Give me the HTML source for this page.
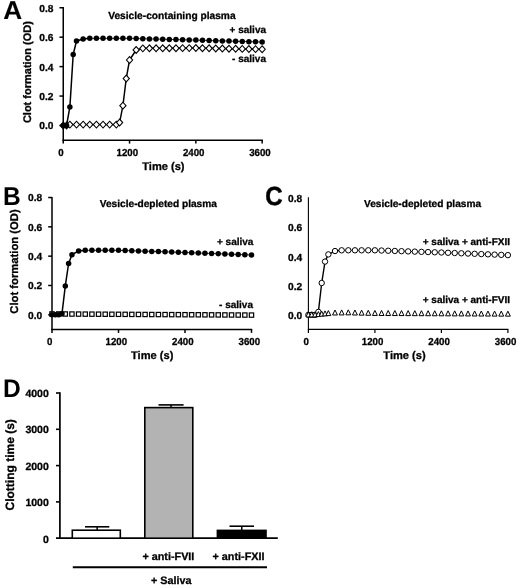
<!DOCTYPE html>
<html><head><meta charset="utf-8"><title>Figure</title>
<style>html,body{margin:0;padding:0;background:#fff}svg{display:block;will-change:transform}text{font-family:"Liberation Sans",Arial,sans-serif;font-weight:bold;fill:#000;text-rendering:geometricPrecision;stroke:#000;stroke-width:0.3px;stroke-linejoin:round}text.big{stroke-width:0.5px;stroke-linejoin:miter}</style>
</head><body>
<svg width="520" height="588" viewBox="0 0 520 588">
<line x1="63.25" y1="7.05" x2="63.25" y2="140.95" stroke="#000" stroke-width="1.5"/>
<line x1="62.55" y1="140.25" x2="262.90" y2="140.25" stroke="#000" stroke-width="1.5"/>
<line x1="59.45" y1="125.50" x2="63.25" y2="125.50" stroke="#000" stroke-width="1.5"/>
<text transform="translate(53.45 129.40) scale(1.0 1)" font-size="10.2" text-anchor="end" >0.0</text>
<line x1="59.45" y1="96.06" x2="63.25" y2="96.06" stroke="#000" stroke-width="1.5"/>
<text transform="translate(53.45 99.96) scale(1.0 1)" font-size="10.2" text-anchor="end" >0.2</text>
<line x1="59.45" y1="66.62" x2="63.25" y2="66.62" stroke="#000" stroke-width="1.5"/>
<text transform="translate(53.45 70.52) scale(1.0 1)" font-size="10.2" text-anchor="end" >0.4</text>
<line x1="59.45" y1="37.18" x2="63.25" y2="37.18" stroke="#000" stroke-width="1.5"/>
<text transform="translate(53.45 41.08) scale(1.0 1)" font-size="10.2" text-anchor="end" >0.6</text>
<line x1="59.45" y1="7.74" x2="63.25" y2="7.74" stroke="#000" stroke-width="1.5"/>
<text transform="translate(53.45 11.64) scale(1.0 1)" font-size="10.2" text-anchor="end" >0.8</text>
<line x1="63.25" y1="140.25" x2="63.25" y2="143.60" stroke="#000" stroke-width="1.5"/>
<text transform="translate(61.05 155.60) scale(0.95 1)" font-size="10.2" text-anchor="middle" >0</text>
<line x1="129.55" y1="140.25" x2="129.55" y2="143.60" stroke="#000" stroke-width="1.5"/>
<text transform="translate(127.35 155.60) scale(0.95 1)" font-size="10.2" text-anchor="middle" >1200</text>
<line x1="195.85" y1="140.25" x2="195.85" y2="143.60" stroke="#000" stroke-width="1.5"/>
<text transform="translate(193.65 155.60) scale(0.95 1)" font-size="10.2" text-anchor="middle" >2400</text>
<line x1="262.15" y1="140.25" x2="262.15" y2="143.60" stroke="#000" stroke-width="1.5"/>
<text transform="translate(259.95 155.60) scale(0.95 1)" font-size="10.2" text-anchor="middle" >3600</text>
<text transform="translate(163.40 169.50) scale(1.0 1)" font-size="11.1" text-anchor="middle" >Time (s)</text>
<text transform="translate(108.20 18.50) scale(1.0 1)" font-size="10.2" text-anchor="start" >Vesicle-containing plasma</text>
<text transform="translate(266.00 32.60) scale(1.0 1)" font-size="10" text-anchor="end" >+ saliva</text>
<text transform="translate(266.00 62.00) scale(1.0 1)" font-size="10" text-anchor="end" >- saliva</text>
<text transform="translate(3.25 18.95) scale(1.02 1)" font-size="25.7" text-anchor="start" class="big" style="stroke-width:0.1px">A</text>
<text transform="translate(31,72.1) rotate(-90)" font-size="11" text-anchor="middle">Clot formation (OD)</text>
<polyline fill="none" stroke="#000" stroke-width="1.45" stroke-linejoin="round" points="63.25,125.50 66.56,125.50 69.88,124.62 76.51,124.62 83.14,124.62 89.77,124.62 96.40,124.62 103.03,124.62 109.66,124.62 116.29,124.62 119.61,122.56 122.92,105.63 126.23,78.54 129.55,60.00 136.18,49.99 142.81,48.37 149.44,48.33 156.07,48.29 162.70,48.26 169.33,48.22 175.96,48.18 182.59,48.15 189.22,48.11 195.85,48.07 202.48,48.19 209.11,48.31 215.74,48.43 222.37,48.54 229.00,48.66 235.63,48.78 242.26,48.90 248.89,49.01 255.52,49.13 262.15,49.25"/>
<path d="M60.15 125.50L63.25 122.10L66.35 125.50L63.25 128.90Z" fill="#fff" stroke="#000" stroke-width="1.1"/>
<path d="M63.46 125.50L66.56 122.10L69.66 125.50L66.56 128.90Z" fill="#fff" stroke="#000" stroke-width="1.1"/>
<path d="M66.78 124.62L69.88 121.22L72.98 124.62L69.88 128.02Z" fill="#fff" stroke="#000" stroke-width="1.1"/>
<path d="M73.41 124.62L76.51 121.22L79.61 124.62L76.51 128.02Z" fill="#fff" stroke="#000" stroke-width="1.1"/>
<path d="M80.04 124.62L83.14 121.22L86.24 124.62L83.14 128.02Z" fill="#fff" stroke="#000" stroke-width="1.1"/>
<path d="M86.67 124.62L89.77 121.22L92.87 124.62L89.77 128.02Z" fill="#fff" stroke="#000" stroke-width="1.1"/>
<path d="M93.30 124.62L96.40 121.22L99.50 124.62L96.40 128.02Z" fill="#fff" stroke="#000" stroke-width="1.1"/>
<path d="M99.93 124.62L103.03 121.22L106.13 124.62L103.03 128.02Z" fill="#fff" stroke="#000" stroke-width="1.1"/>
<path d="M106.56 124.62L109.66 121.22L112.76 124.62L109.66 128.02Z" fill="#fff" stroke="#000" stroke-width="1.1"/>
<path d="M113.19 124.62L116.29 121.22L119.39 124.62L116.29 128.02Z" fill="#fff" stroke="#000" stroke-width="1.1"/>
<path d="M116.51 122.56L119.61 119.16L122.70 122.56L119.61 125.96Z" fill="#fff" stroke="#000" stroke-width="1.1"/>
<path d="M119.82 105.63L122.92 102.23L126.02 105.63L122.92 109.03Z" fill="#fff" stroke="#000" stroke-width="1.1"/>
<path d="M123.14 78.54L126.23 75.14L129.34 78.54L126.23 81.94Z" fill="#fff" stroke="#000" stroke-width="1.1"/>
<path d="M126.45 60.00L129.55 56.60L132.65 60.00L129.55 63.40Z" fill="#fff" stroke="#000" stroke-width="1.1"/>
<path d="M133.08 49.99L136.18 46.59L139.28 49.99L136.18 53.39Z" fill="#fff" stroke="#000" stroke-width="1.1"/>
<path d="M139.71 48.37L142.81 44.97L145.91 48.37L142.81 51.77Z" fill="#fff" stroke="#000" stroke-width="1.1"/>
<path d="M146.34 48.33L149.44 44.93L152.54 48.33L149.44 51.73Z" fill="#fff" stroke="#000" stroke-width="1.1"/>
<path d="M152.97 48.29L156.07 44.89L159.17 48.29L156.07 51.69Z" fill="#fff" stroke="#000" stroke-width="1.1"/>
<path d="M159.60 48.26L162.70 44.86L165.80 48.26L162.70 51.66Z" fill="#fff" stroke="#000" stroke-width="1.1"/>
<path d="M166.23 48.22L169.33 44.82L172.43 48.22L169.33 51.62Z" fill="#fff" stroke="#000" stroke-width="1.1"/>
<path d="M172.86 48.18L175.96 44.78L179.06 48.18L175.96 51.58Z" fill="#fff" stroke="#000" stroke-width="1.1"/>
<path d="M179.49 48.15L182.59 44.75L185.69 48.15L182.59 51.55Z" fill="#fff" stroke="#000" stroke-width="1.1"/>
<path d="M186.12 48.11L189.22 44.71L192.32 48.11L189.22 51.51Z" fill="#fff" stroke="#000" stroke-width="1.1"/>
<path d="M192.75 48.07L195.85 44.67L198.95 48.07L195.85 51.47Z" fill="#fff" stroke="#000" stroke-width="1.1"/>
<path d="M199.38 48.19L202.48 44.79L205.58 48.19L202.48 51.59Z" fill="#fff" stroke="#000" stroke-width="1.1"/>
<path d="M206.01 48.31L209.11 44.91L212.21 48.31L209.11 51.71Z" fill="#fff" stroke="#000" stroke-width="1.1"/>
<path d="M212.64 48.43L215.74 45.03L218.84 48.43L215.74 51.83Z" fill="#fff" stroke="#000" stroke-width="1.1"/>
<path d="M219.27 48.54L222.37 45.14L225.47 48.54L222.37 51.94Z" fill="#fff" stroke="#000" stroke-width="1.1"/>
<path d="M225.90 48.66L229.00 45.26L232.10 48.66L229.00 52.06Z" fill="#fff" stroke="#000" stroke-width="1.1"/>
<path d="M232.53 48.78L235.63 45.38L238.73 48.78L235.63 52.18Z" fill="#fff" stroke="#000" stroke-width="1.1"/>
<path d="M239.16 48.90L242.26 45.50L245.36 48.90L242.26 52.30Z" fill="#fff" stroke="#000" stroke-width="1.1"/>
<path d="M245.79 49.01L248.89 45.61L251.99 49.01L248.89 52.41Z" fill="#fff" stroke="#000" stroke-width="1.1"/>
<path d="M252.42 49.13L255.52 45.73L258.62 49.13L255.52 52.53Z" fill="#fff" stroke="#000" stroke-width="1.1"/>
<path d="M259.05 49.25L262.15 45.85L265.25 49.25L262.15 52.65Z" fill="#fff" stroke="#000" stroke-width="1.1"/>
<polyline fill="none" stroke="#000" stroke-width="0.8" stroke-linejoin="round" points="89.77,38.36 96.40,38.36 103.03,38.36 109.66,38.36 116.29,38.36 122.92,38.36 129.55,38.36 136.18,38.53 142.81,38.71 149.44,38.89 156.07,39.06 162.70,39.24 169.33,39.42 175.96,39.59 182.59,39.77 189.22,39.95 195.85,40.12 202.48,40.32 209.11,40.51 215.74,40.70 222.37,40.89 229.00,41.08 235.63,41.27 242.26,41.46 248.89,41.65 255.52,41.85 262.15,42.04"/>
<polyline fill="none" stroke="#000" stroke-width="1.5" stroke-linejoin="round" points="63.25,125.50 66.56,125.50 69.88,106.95 73.19,54.55 76.51,41.01 83.14,38.95 89.77,38.36"/>
<circle cx="63.25" cy="125.50" r="2.75" fill="#000"/>
<circle cx="66.56" cy="125.50" r="2.75" fill="#000"/>
<circle cx="69.88" cy="106.95" r="2.75" fill="#000"/>
<circle cx="73.19" cy="54.55" r="2.75" fill="#000"/>
<circle cx="76.51" cy="41.01" r="2.75" fill="#000"/>
<circle cx="83.14" cy="38.95" r="2.75" fill="#000"/>
<circle cx="89.77" cy="38.36" r="2.75" fill="#000"/>
<circle cx="96.40" cy="38.36" r="2.75" fill="#000"/>
<circle cx="103.03" cy="38.36" r="2.75" fill="#000"/>
<circle cx="109.66" cy="38.36" r="2.75" fill="#000"/>
<circle cx="116.29" cy="38.36" r="2.75" fill="#000"/>
<circle cx="122.92" cy="38.36" r="2.75" fill="#000"/>
<circle cx="129.55" cy="38.36" r="2.75" fill="#000"/>
<circle cx="136.18" cy="38.53" r="2.75" fill="#000"/>
<circle cx="142.81" cy="38.71" r="2.75" fill="#000"/>
<circle cx="149.44" cy="38.89" r="2.75" fill="#000"/>
<circle cx="156.07" cy="39.06" r="2.75" fill="#000"/>
<circle cx="162.70" cy="39.24" r="2.75" fill="#000"/>
<circle cx="169.33" cy="39.42" r="2.75" fill="#000"/>
<circle cx="175.96" cy="39.59" r="2.75" fill="#000"/>
<circle cx="182.59" cy="39.77" r="2.75" fill="#000"/>
<circle cx="189.22" cy="39.95" r="2.75" fill="#000"/>
<circle cx="195.85" cy="40.12" r="2.75" fill="#000"/>
<circle cx="202.48" cy="40.32" r="2.75" fill="#000"/>
<circle cx="209.11" cy="40.51" r="2.75" fill="#000"/>
<circle cx="215.74" cy="40.70" r="2.75" fill="#000"/>
<circle cx="222.37" cy="40.89" r="2.75" fill="#000"/>
<circle cx="229.00" cy="41.08" r="2.75" fill="#000"/>
<circle cx="235.63" cy="41.27" r="2.75" fill="#000"/>
<circle cx="242.26" cy="41.46" r="2.75" fill="#000"/>
<circle cx="248.89" cy="41.65" r="2.75" fill="#000"/>
<circle cx="255.52" cy="41.85" r="2.75" fill="#000"/>
<circle cx="262.15" cy="42.04" r="2.75" fill="#000"/>
<line x1="52.00" y1="196.90" x2="52.00" y2="330.10" stroke="#000" stroke-width="1.5"/>
<line x1="51.30" y1="329.40" x2="252.20" y2="329.40" stroke="#000" stroke-width="1.5"/>
<line x1="48.20" y1="314.80" x2="52.00" y2="314.80" stroke="#000" stroke-width="1.5"/>
<text transform="translate(42.20 318.70) scale(1.0 1)" font-size="10.2" text-anchor="end" >0.0</text>
<line x1="48.20" y1="285.48" x2="52.00" y2="285.48" stroke="#000" stroke-width="1.5"/>
<text transform="translate(42.20 289.38) scale(1.0 1)" font-size="10.2" text-anchor="end" >0.2</text>
<line x1="48.20" y1="256.16" x2="52.00" y2="256.16" stroke="#000" stroke-width="1.5"/>
<text transform="translate(42.20 260.06) scale(1.0 1)" font-size="10.2" text-anchor="end" >0.4</text>
<line x1="48.20" y1="226.84" x2="52.00" y2="226.84" stroke="#000" stroke-width="1.5"/>
<text transform="translate(42.20 230.74) scale(1.0 1)" font-size="10.2" text-anchor="end" >0.6</text>
<line x1="48.20" y1="197.52" x2="52.00" y2="197.52" stroke="#000" stroke-width="1.5"/>
<text transform="translate(42.20 201.42) scale(1.0 1)" font-size="10.2" text-anchor="end" >0.8</text>
<line x1="52.00" y1="329.40" x2="52.00" y2="332.90" stroke="#000" stroke-width="1.5"/>
<text transform="translate(49.80 345.00) scale(0.95 1)" font-size="10.2" text-anchor="middle" >0</text>
<line x1="118.50" y1="329.40" x2="118.50" y2="332.90" stroke="#000" stroke-width="1.5"/>
<text transform="translate(116.30 345.00) scale(0.95 1)" font-size="10.2" text-anchor="middle" >1200</text>
<line x1="185.00" y1="329.40" x2="185.00" y2="332.90" stroke="#000" stroke-width="1.5"/>
<text transform="translate(182.80 345.00) scale(0.95 1)" font-size="10.2" text-anchor="middle" >2400</text>
<line x1="251.50" y1="329.40" x2="251.50" y2="332.90" stroke="#000" stroke-width="1.5"/>
<text transform="translate(249.30 345.00) scale(0.95 1)" font-size="10.2" text-anchor="middle" >3600</text>
<text transform="translate(152.20 358.70) scale(1.0 1)" font-size="11.1" text-anchor="middle" >Time (s)</text>
<text transform="translate(99.80 207.10) scale(1.0 1)" font-size="10.15" text-anchor="start" >Vesicle-depleted plasma</text>
<text transform="translate(253.40 245.00) scale(1.0 1)" font-size="10" text-anchor="end" >+ saliva</text>
<text transform="translate(253.00 308.10) scale(1.0 1)" font-size="10" text-anchor="end" >- saliva</text>
<text transform="translate(2.95 204.70) scale(0.95 1)" font-size="25.8" text-anchor="start" class="big" style="stroke-width:0">B</text>
<text transform="translate(17.7,261.5) rotate(-90)" font-size="11.25" text-anchor="middle">Clot formation (OD)</text>
<rect x="49.85" y="311.77" width="4.3" height="4.3" fill="#fff" stroke="#000" stroke-width="1.2"/>
<rect x="56.50" y="311.81" width="4.3" height="4.3" fill="#fff" stroke="#000" stroke-width="1.2"/>
<rect x="63.15" y="311.85" width="4.3" height="4.3" fill="#fff" stroke="#000" stroke-width="1.2"/>
<rect x="69.80" y="311.89" width="4.3" height="4.3" fill="#fff" stroke="#000" stroke-width="1.2"/>
<rect x="76.45" y="311.93" width="4.3" height="4.3" fill="#fff" stroke="#000" stroke-width="1.2"/>
<rect x="83.10" y="311.97" width="4.3" height="4.3" fill="#fff" stroke="#000" stroke-width="1.2"/>
<rect x="89.75" y="312.00" width="4.3" height="4.3" fill="#fff" stroke="#000" stroke-width="1.2"/>
<rect x="96.40" y="312.04" width="4.3" height="4.3" fill="#fff" stroke="#000" stroke-width="1.2"/>
<rect x="103.05" y="312.08" width="4.3" height="4.3" fill="#fff" stroke="#000" stroke-width="1.2"/>
<rect x="109.70" y="312.12" width="4.3" height="4.3" fill="#fff" stroke="#000" stroke-width="1.2"/>
<rect x="116.35" y="312.16" width="4.3" height="4.3" fill="#fff" stroke="#000" stroke-width="1.2"/>
<rect x="123.00" y="312.20" width="4.3" height="4.3" fill="#fff" stroke="#000" stroke-width="1.2"/>
<rect x="129.65" y="312.24" width="4.3" height="4.3" fill="#fff" stroke="#000" stroke-width="1.2"/>
<rect x="136.30" y="312.28" width="4.3" height="4.3" fill="#fff" stroke="#000" stroke-width="1.2"/>
<rect x="142.95" y="312.32" width="4.3" height="4.3" fill="#fff" stroke="#000" stroke-width="1.2"/>
<rect x="149.60" y="312.36" width="4.3" height="4.3" fill="#fff" stroke="#000" stroke-width="1.2"/>
<rect x="156.25" y="312.40" width="4.3" height="4.3" fill="#fff" stroke="#000" stroke-width="1.2"/>
<rect x="162.90" y="312.43" width="4.3" height="4.3" fill="#fff" stroke="#000" stroke-width="1.2"/>
<rect x="169.55" y="312.47" width="4.3" height="4.3" fill="#fff" stroke="#000" stroke-width="1.2"/>
<rect x="176.20" y="312.51" width="4.3" height="4.3" fill="#fff" stroke="#000" stroke-width="1.2"/>
<rect x="182.85" y="312.55" width="4.3" height="4.3" fill="#fff" stroke="#000" stroke-width="1.2"/>
<rect x="189.50" y="312.59" width="4.3" height="4.3" fill="#fff" stroke="#000" stroke-width="1.2"/>
<rect x="196.15" y="312.63" width="4.3" height="4.3" fill="#fff" stroke="#000" stroke-width="1.2"/>
<rect x="202.80" y="312.67" width="4.3" height="4.3" fill="#fff" stroke="#000" stroke-width="1.2"/>
<rect x="209.45" y="312.71" width="4.3" height="4.3" fill="#fff" stroke="#000" stroke-width="1.2"/>
<rect x="216.10" y="312.75" width="4.3" height="4.3" fill="#fff" stroke="#000" stroke-width="1.2"/>
<rect x="222.75" y="312.79" width="4.3" height="4.3" fill="#fff" stroke="#000" stroke-width="1.2"/>
<rect x="229.40" y="312.83" width="4.3" height="4.3" fill="#fff" stroke="#000" stroke-width="1.2"/>
<rect x="236.05" y="312.87" width="4.3" height="4.3" fill="#fff" stroke="#000" stroke-width="1.2"/>
<rect x="242.70" y="312.90" width="4.3" height="4.3" fill="#fff" stroke="#000" stroke-width="1.2"/>
<rect x="249.35" y="312.94" width="4.3" height="4.3" fill="#fff" stroke="#000" stroke-width="1.2"/>
<polyline fill="none" stroke="#000" stroke-width="0.8" stroke-linejoin="round" points="85.25,250.30 91.90,250.30 98.55,250.30 105.20,250.30 111.85,250.30 118.50,250.30 125.15,250.52 131.80,250.74 138.45,250.96 145.10,251.18 151.75,251.40 158.40,251.62 165.05,251.84 171.70,252.06 178.35,252.28 185.00,252.50 191.65,252.74 198.30,252.99 204.95,253.24 211.60,253.49 218.25,253.74 224.90,253.99 231.55,254.24 238.20,254.49 244.85,254.74 251.50,254.99"/>
<polyline fill="none" stroke="#000" stroke-width="1.5" stroke-linejoin="round" points="52.00,314.80 55.33,314.80 58.65,314.80 61.98,313.63 65.30,285.92 68.62,263.49 71.95,254.69 78.60,251.03 85.25,250.30"/>
<circle cx="52.00" cy="314.80" r="2.75" fill="#000"/>
<circle cx="55.33" cy="314.80" r="2.75" fill="#000"/>
<circle cx="58.65" cy="314.80" r="2.75" fill="#000"/>
<circle cx="61.98" cy="313.63" r="2.75" fill="#000"/>
<circle cx="65.30" cy="285.92" r="2.75" fill="#000"/>
<circle cx="68.62" cy="263.49" r="2.75" fill="#000"/>
<circle cx="71.95" cy="254.69" r="2.75" fill="#000"/>
<circle cx="78.60" cy="251.03" r="2.75" fill="#000"/>
<circle cx="85.25" cy="250.30" r="2.75" fill="#000"/>
<circle cx="91.90" cy="250.30" r="2.75" fill="#000"/>
<circle cx="98.55" cy="250.30" r="2.75" fill="#000"/>
<circle cx="105.20" cy="250.30" r="2.75" fill="#000"/>
<circle cx="111.85" cy="250.30" r="2.75" fill="#000"/>
<circle cx="118.50" cy="250.30" r="2.75" fill="#000"/>
<circle cx="125.15" cy="250.52" r="2.75" fill="#000"/>
<circle cx="131.80" cy="250.74" r="2.75" fill="#000"/>
<circle cx="138.45" cy="250.96" r="2.75" fill="#000"/>
<circle cx="145.10" cy="251.18" r="2.75" fill="#000"/>
<circle cx="151.75" cy="251.40" r="2.75" fill="#000"/>
<circle cx="158.40" cy="251.62" r="2.75" fill="#000"/>
<circle cx="165.05" cy="251.84" r="2.75" fill="#000"/>
<circle cx="171.70" cy="252.06" r="2.75" fill="#000"/>
<circle cx="178.35" cy="252.28" r="2.75" fill="#000"/>
<circle cx="185.00" cy="252.50" r="2.75" fill="#000"/>
<circle cx="191.65" cy="252.74" r="2.75" fill="#000"/>
<circle cx="198.30" cy="252.99" r="2.75" fill="#000"/>
<circle cx="204.95" cy="253.24" r="2.75" fill="#000"/>
<circle cx="211.60" cy="253.49" r="2.75" fill="#000"/>
<circle cx="218.25" cy="253.74" r="2.75" fill="#000"/>
<circle cx="224.90" cy="253.99" r="2.75" fill="#000"/>
<circle cx="231.55" cy="254.24" r="2.75" fill="#000"/>
<circle cx="238.20" cy="254.49" r="2.75" fill="#000"/>
<circle cx="244.85" cy="254.74" r="2.75" fill="#000"/>
<circle cx="251.50" cy="254.99" r="2.75" fill="#000"/>
<line x1="308.40" y1="197.20" x2="308.40" y2="330.00" stroke="#000" stroke-width="1.1"/>
<line x1="307.90" y1="329.40" x2="508.40" y2="329.40" stroke="#000" stroke-width="1.3"/>
<text transform="translate(302.20 319.30) scale(1.0 1)" font-size="10.2" text-anchor="end" >0.0</text>
<text transform="translate(302.20 289.98) scale(1.0 1)" font-size="10.2" text-anchor="end" >0.2</text>
<text transform="translate(302.20 260.66) scale(1.0 1)" font-size="10.2" text-anchor="end" >0.4</text>
<text transform="translate(302.20 231.34) scale(1.0 1)" font-size="10.2" text-anchor="end" >0.6</text>
<text transform="translate(302.20 202.02) scale(1.0 1)" font-size="10.2" text-anchor="end" >0.8</text>
<line x1="308.40" y1="329.40" x2="308.40" y2="333.00" stroke="#000" stroke-width="1.2"/>
<text transform="translate(306.10 345.00) scale(0.95 1)" font-size="10.2" text-anchor="middle" >0</text>
<line x1="374.90" y1="329.40" x2="374.90" y2="333.00" stroke="#000" stroke-width="1.2"/>
<text transform="translate(372.60 345.00) scale(0.95 1)" font-size="10.2" text-anchor="middle" >1200</text>
<line x1="441.40" y1="329.40" x2="441.40" y2="333.00" stroke="#000" stroke-width="1.2"/>
<text transform="translate(439.10 345.00) scale(0.95 1)" font-size="10.2" text-anchor="middle" >2400</text>
<line x1="507.90" y1="329.40" x2="507.90" y2="333.00" stroke="#000" stroke-width="1.2"/>
<text transform="translate(505.60 345.00) scale(0.95 1)" font-size="10.2" text-anchor="middle" >3600</text>
<text transform="translate(404.50 358.70) scale(1.0 1)" font-size="11.1" text-anchor="middle" >Time (s)</text>
<text transform="translate(364.00 207.10) scale(1.0 1)" font-size="10.15" text-anchor="start" >Vesicle-depleted plasma</text>
<text transform="translate(510.00 245.00) scale(1.0 1)" font-size="10" text-anchor="end" >+ saliva + anti-FXII</text>
<text transform="translate(510.00 302.80) scale(1.0 1)" font-size="10" text-anchor="end" >+ saliva + anti-FVII</text>
<text transform="translate(265.30 204.65) scale(0.92 1)" font-size="26.1" text-anchor="start" class="big">C</text>
<polyline fill="none" stroke="#000" stroke-width="0.8" stroke-linejoin="round" points="341.65,250.30 348.30,250.30 354.95,250.30 361.60,250.30 368.25,250.30 374.90,250.30 381.55,250.52 388.20,250.74 394.85,250.96 401.50,251.18 408.15,251.40 414.80,251.62 421.45,251.84 428.10,252.06 434.75,252.28 441.40,252.50 448.05,252.76 454.70,253.02 461.35,253.29 468.00,253.55 474.65,253.81 481.30,254.08 487.95,254.34 494.60,254.61 501.25,254.87 507.90,255.13"/>
<polyline fill="none" stroke="#000" stroke-width="1.4" stroke-linejoin="round" points="308.40,314.80 311.72,314.80 315.05,314.80 318.38,311.87 321.70,282.99 325.02,261.58 328.35,254.40 335.00,251.03 341.65,250.30"/>
<circle cx="308.40" cy="314.80" r="2.7" fill="#fff" stroke="#000" stroke-width="1.0"/>
<circle cx="311.72" cy="314.80" r="2.7" fill="#fff" stroke="#000" stroke-width="1.0"/>
<circle cx="315.05" cy="314.80" r="2.7" fill="#fff" stroke="#000" stroke-width="1.0"/>
<circle cx="318.38" cy="311.87" r="2.7" fill="#fff" stroke="#000" stroke-width="1.0"/>
<circle cx="321.70" cy="282.99" r="2.7" fill="#fff" stroke="#000" stroke-width="1.0"/>
<circle cx="325.02" cy="261.58" r="2.7" fill="#fff" stroke="#000" stroke-width="1.0"/>
<circle cx="328.35" cy="254.40" r="2.7" fill="#fff" stroke="#000" stroke-width="1.0"/>
<circle cx="335.00" cy="251.03" r="2.7" fill="#fff" stroke="#000" stroke-width="1.0"/>
<circle cx="341.65" cy="250.30" r="2.7" fill="#fff" stroke="#000" stroke-width="1.0"/>
<circle cx="348.30" cy="250.30" r="2.7" fill="#fff" stroke="#000" stroke-width="1.0"/>
<circle cx="354.95" cy="250.30" r="2.7" fill="#fff" stroke="#000" stroke-width="1.0"/>
<circle cx="361.60" cy="250.30" r="2.7" fill="#fff" stroke="#000" stroke-width="1.0"/>
<circle cx="368.25" cy="250.30" r="2.7" fill="#fff" stroke="#000" stroke-width="1.0"/>
<circle cx="374.90" cy="250.30" r="2.7" fill="#fff" stroke="#000" stroke-width="1.0"/>
<circle cx="381.55" cy="250.52" r="2.7" fill="#fff" stroke="#000" stroke-width="1.0"/>
<circle cx="388.20" cy="250.74" r="2.7" fill="#fff" stroke="#000" stroke-width="1.0"/>
<circle cx="394.85" cy="250.96" r="2.7" fill="#fff" stroke="#000" stroke-width="1.0"/>
<circle cx="401.50" cy="251.18" r="2.7" fill="#fff" stroke="#000" stroke-width="1.0"/>
<circle cx="408.15" cy="251.40" r="2.7" fill="#fff" stroke="#000" stroke-width="1.0"/>
<circle cx="414.80" cy="251.62" r="2.7" fill="#fff" stroke="#000" stroke-width="1.0"/>
<circle cx="421.45" cy="251.84" r="2.7" fill="#fff" stroke="#000" stroke-width="1.0"/>
<circle cx="428.10" cy="252.06" r="2.7" fill="#fff" stroke="#000" stroke-width="1.0"/>
<circle cx="434.75" cy="252.28" r="2.7" fill="#fff" stroke="#000" stroke-width="1.0"/>
<circle cx="441.40" cy="252.50" r="2.7" fill="#fff" stroke="#000" stroke-width="1.0"/>
<circle cx="448.05" cy="252.76" r="2.7" fill="#fff" stroke="#000" stroke-width="1.0"/>
<circle cx="454.70" cy="253.02" r="2.7" fill="#fff" stroke="#000" stroke-width="1.0"/>
<circle cx="461.35" cy="253.29" r="2.7" fill="#fff" stroke="#000" stroke-width="1.0"/>
<circle cx="468.00" cy="253.55" r="2.7" fill="#fff" stroke="#000" stroke-width="1.0"/>
<circle cx="474.65" cy="253.81" r="2.7" fill="#fff" stroke="#000" stroke-width="1.0"/>
<circle cx="481.30" cy="254.08" r="2.7" fill="#fff" stroke="#000" stroke-width="1.0"/>
<circle cx="487.95" cy="254.34" r="2.7" fill="#fff" stroke="#000" stroke-width="1.0"/>
<circle cx="494.60" cy="254.61" r="2.7" fill="#fff" stroke="#000" stroke-width="1.0"/>
<circle cx="501.25" cy="254.87" r="2.7" fill="#fff" stroke="#000" stroke-width="1.0"/>
<circle cx="507.90" cy="255.13" r="2.7" fill="#fff" stroke="#000" stroke-width="1.0"/>
<path d="M305.95 316.91L308.40 311.91L310.85 316.91Z" fill="#fff" stroke="#000" stroke-width="1.0"/>
<path d="M309.27 316.91L311.72 311.91L314.17 316.91Z" fill="#fff" stroke="#000" stroke-width="1.0"/>
<path d="M312.60 316.91L315.05 311.91L317.50 316.91Z" fill="#fff" stroke="#000" stroke-width="1.0"/>
<path d="M315.93 316.54L318.38 311.54L320.82 316.54Z" fill="#fff" stroke="#000" stroke-width="1.0"/>
<path d="M319.25 316.17L321.70 311.17L324.15 316.17Z" fill="#fff" stroke="#000" stroke-width="1.0"/>
<path d="M322.57 315.88L325.02 310.88L327.47 315.88Z" fill="#fff" stroke="#000" stroke-width="1.0"/>
<path d="M325.90 315.59L328.35 310.59L330.80 315.59Z" fill="#fff" stroke="#000" stroke-width="1.0"/>
<path d="M332.55 315.00L335.00 310.00L337.45 315.00Z" fill="#fff" stroke="#000" stroke-width="1.0"/>
<path d="M339.20 314.93L341.65 309.93L344.10 314.93Z" fill="#fff" stroke="#000" stroke-width="1.0"/>
<path d="M345.85 314.85L348.30 309.85L350.75 314.85Z" fill="#fff" stroke="#000" stroke-width="1.0"/>
<path d="M352.50 315.00L354.95 310.00L357.40 315.00Z" fill="#fff" stroke="#000" stroke-width="1.0"/>
<path d="M359.15 315.15L361.60 310.15L364.05 315.15Z" fill="#fff" stroke="#000" stroke-width="1.0"/>
<path d="M365.80 315.29L368.25 310.29L370.70 315.29Z" fill="#fff" stroke="#000" stroke-width="1.0"/>
<path d="M372.45 315.44L374.90 310.44L377.35 315.44Z" fill="#fff" stroke="#000" stroke-width="1.0"/>
<path d="M379.10 315.48L381.55 310.48L384.00 315.48Z" fill="#fff" stroke="#000" stroke-width="1.0"/>
<path d="M385.75 315.51L388.20 310.51L390.65 315.51Z" fill="#fff" stroke="#000" stroke-width="1.0"/>
<path d="M392.40 315.55L394.85 310.55L397.30 315.55Z" fill="#fff" stroke="#000" stroke-width="1.0"/>
<path d="M399.05 315.59L401.50 310.59L403.95 315.59Z" fill="#fff" stroke="#000" stroke-width="1.0"/>
<path d="M405.70 315.62L408.15 310.62L410.60 315.62Z" fill="#fff" stroke="#000" stroke-width="1.0"/>
<path d="M412.35 315.66L414.80 310.66L417.25 315.66Z" fill="#fff" stroke="#000" stroke-width="1.0"/>
<path d="M419.00 315.70L421.45 310.70L423.90 315.70Z" fill="#fff" stroke="#000" stroke-width="1.0"/>
<path d="M425.65 315.73L428.10 310.73L430.55 315.73Z" fill="#fff" stroke="#000" stroke-width="1.0"/>
<path d="M432.30 315.77L434.75 310.77L437.20 315.77Z" fill="#fff" stroke="#000" stroke-width="1.0"/>
<path d="M438.95 315.81L441.40 310.81L443.85 315.81Z" fill="#fff" stroke="#000" stroke-width="1.0"/>
<path d="M445.60 315.84L448.05 310.84L450.50 315.84Z" fill="#fff" stroke="#000" stroke-width="1.0"/>
<path d="M452.25 315.88L454.70 310.88L457.15 315.88Z" fill="#fff" stroke="#000" stroke-width="1.0"/>
<path d="M458.90 315.92L461.35 310.92L463.80 315.92Z" fill="#fff" stroke="#000" stroke-width="1.0"/>
<path d="M465.55 315.95L468.00 310.95L470.45 315.95Z" fill="#fff" stroke="#000" stroke-width="1.0"/>
<path d="M472.20 315.99L474.65 310.99L477.10 315.99Z" fill="#fff" stroke="#000" stroke-width="1.0"/>
<path d="M478.85 316.03L481.30 311.03L483.75 316.03Z" fill="#fff" stroke="#000" stroke-width="1.0"/>
<path d="M485.50 316.06L487.95 311.06L490.40 316.06Z" fill="#fff" stroke="#000" stroke-width="1.0"/>
<path d="M492.15 316.10L494.60 311.10L497.05 316.10Z" fill="#fff" stroke="#000" stroke-width="1.0"/>
<path d="M498.80 316.14L501.25 311.14L503.70 316.14Z" fill="#fff" stroke="#000" stroke-width="1.0"/>
<path d="M505.45 316.17L507.90 311.17L510.35 316.17Z" fill="#fff" stroke="#000" stroke-width="1.0"/>
<line x1="59.90" y1="392.20" x2="59.90" y2="539.00" stroke="#000" stroke-width="1.7"/>
<line x1="56.00" y1="538.20" x2="277.80" y2="538.20" stroke="#000" stroke-width="1.7"/>
<text transform="translate(48.80 543.10) scale(1.0 1)" font-size="10.5" text-anchor="end" >0</text>
<line x1="56.00" y1="501.90" x2="59.90" y2="501.90" stroke="#000" stroke-width="1.6"/>
<text transform="translate(48.80 506.00) scale(1.0 1)" font-size="10.5" text-anchor="end" >1000</text>
<line x1="56.00" y1="465.60" x2="59.90" y2="465.60" stroke="#000" stroke-width="1.6"/>
<text transform="translate(48.80 469.70) scale(1.0 1)" font-size="10.5" text-anchor="end" >2000</text>
<line x1="56.00" y1="429.30" x2="59.90" y2="429.30" stroke="#000" stroke-width="1.6"/>
<text transform="translate(48.80 433.40) scale(1.0 1)" font-size="10.5" text-anchor="end" >3000</text>
<line x1="56.00" y1="393.00" x2="59.90" y2="393.00" stroke="#000" stroke-width="1.6"/>
<text transform="translate(48.80 397.10) scale(1.0 1)" font-size="10.5" text-anchor="end" >4000</text>
<text transform="translate(3.00 396.90) scale(0.96 1)" font-size="25.6" text-anchor="start" class="big" style="stroke-width:0">D</text>
<text transform="translate(14.0,464.8) rotate(-90)" font-size="12" text-anchor="middle">Clotting time (s)</text>
<line x1="97.15" y1="530.20" x2="97.15" y2="526.80" stroke="#000" stroke-width="1.5"/>
<line x1="85.00" y1="526.80" x2="109.30" y2="526.80" stroke="#000" stroke-width="1.6"/>
<rect x="72.30" y="530.20" width="48.00" height="8.00" fill="#fff" stroke="#000" stroke-width="1.6"/>
<line x1="171.05" y1="407.60" x2="171.05" y2="404.90" stroke="#000" stroke-width="1.5"/>
<line x1="158.50" y1="404.90" x2="183.60" y2="404.90" stroke="#000" stroke-width="1.6"/>
<rect x="144.80" y="407.60" width="48.00" height="130.60" fill="#b3b3b3" stroke="#000" stroke-width="1.6"/>
<line x1="241.75" y1="530.40" x2="241.75" y2="526.20" stroke="#000" stroke-width="1.5"/>
<line x1="229.50" y1="526.20" x2="254.00" y2="526.20" stroke="#000" stroke-width="1.6"/>
<rect x="217.40" y="530.40" width="48.60" height="7.80" fill="#000" stroke="#000" stroke-width="1.6"/>
<text transform="translate(168.40 559.80) scale(1.0 1)" font-size="10.8" text-anchor="middle" >+ anti-FVII</text>
<text transform="translate(238.50 559.80) scale(1.0 1)" font-size="10.8" text-anchor="middle" >+ anti-FXII</text>
<line x1="72.80" y1="567.25" x2="267.00" y2="567.25" stroke="#000" stroke-width="1.8"/>
<text transform="translate(171.20 583.80) scale(1.0 1)" font-size="10.8" text-anchor="middle" >+ Saliva</text>
</svg>
</body></html>
